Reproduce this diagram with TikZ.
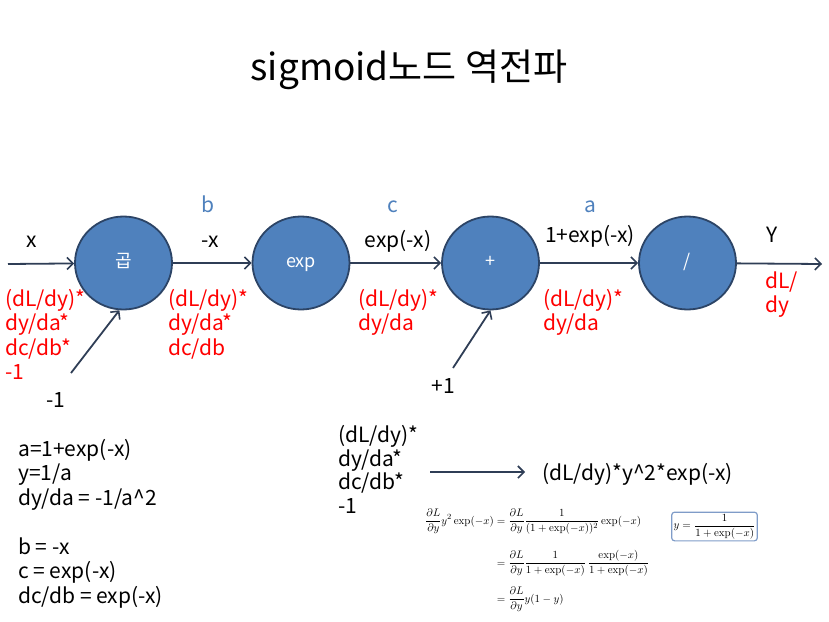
\documentclass[tikz,border=0pt]{standalone}
\usepackage{amsmath}
\usepackage[no-math]{fontspec}
\setmainfont{Noto Sans CJK KR}
\usetikzlibrary{arrows.meta,shapes.geometric}
\definecolor{nodefill}{HTML}{4F81BD}
\definecolor{nodeedge}{HTML}{2C4466}
\definecolor{wire}{HTML}{2F3E56}
\definecolor{varblue}{HTML}{4F81BD}
\definecolor{gradred}{HTML}{FF0000}
\definecolor{boxedge}{HTML}{7F9CC8}
\begin{document}
\begin{tikzpicture}[x=1pt,y=-1pt,
  op/.style={ellipse,fill=nodefill,draw=nodeedge,line width=1.8pt,
    minimum width=97pt,minimum height=93pt,inner sep=0pt,text=white,
    text height=1.6ex,text depth=0pt,
    font=\fontsize{18}{22}\selectfont},
  wirearrow/.style={draw=wire,line width=1.8pt,
    -{Straight Barb[length=6pt,width=12pt,line width=1.6pt]}},
  lbl/.style={font=\fontsize{21}{24.5}\selectfont,inner sep=0pt},
  % multi-line blocks are placed by the baseline of their last line
  grad/.style={lbl,text=gradred,align=left,anchor=base west},
  var/.style={lbl,text=varblue,anchor=base},
  val/.style={lbl,anchor=base},
  note/.style={lbl,align=left,anchor=base west}]
\useasboundingbox (0,0) rectangle (829,621);

% title
\node[inner sep=0pt,anchor=base,font=\fontsize{37}{42}\selectfont] (title) at (409,80) {sigmoid노드 역전파};

% computation graph
\node[op] (mul) at (123.5,263) {곱};
\node[op] (ex)  at (301,263) {exp};
\node[op] (add) at (490.5,263) {+};
\node[op] (div) at (687.5,263) {/};

\coordinate (xin)  at (8,264);
\coordinate (yout) at (822,264);
\coordinate (m1)   at (71,373);
\coordinate (p1)   at (453,368);

\draw[wirearrow] (xin) -- (mul);
\draw[wirearrow] (mul) -- (ex);
\draw[wirearrow] (ex) -- (add);
\draw[wirearrow] (add) -- (div);
\draw[wirearrow] (div) -- (yout);
\draw[wirearrow] (m1) -- (mul.265);
\draw[wirearrow] (p1) -- (add.south);

% forward values
\node[val] (lx)  at (32,247)  {x};
\node[val] (lb)  at (210,247) {-x};
\node[val] (lc)  at (398,247) {exp(-x)};
\node[val] (la)  at (590,242) {1+exp(-x)};
\node[val] (ly)  at (772,242) {Y};
\node[val] (lm1) at (56,407)  {-1};
\node[val] (lp1) at (443,393) {+1};

% variable names
\node[var] (vb) at (208,212) {b};
\node[var] (vc) at (393,212) {c};
\node[var] (va) at (590,212) {a};

% backward gradients
\node[grad] (g1) at (5,379.5)   {(dL/dy)*\\dy/da*\\dc/db*\\-1};
\node[grad] (g2) at (168,355)   {(dL/dy)*\\dy/da*\\dc/db};
\node[grad] (g3) at (358,330.5) {(dL/dy)*\\dy/da};
\node[grad] (g4) at (543,330.5) {(dL/dy)*\\dy/da};
\node[grad] (g5) at (765,312.5) {dL/\\dy};

% definitions
\node[note] (defs) at (18,603) {a=1+exp(-x)\\y=1/a\\dy/da = -1/a\^{}2\\[24.5pt]b = -x\\c = exp(-x)\\dc/db = exp(-x)};

% simplification
\node[note,font=\fontsize{21}{23.5}\selectfont] (prod) at (338,513) {(dL/dy)*\\dy/da*\\dc/db*\\-1};
\node[lbl,anchor=base west] (res) at (542,480) {(dL/dy)*y\^{}2*exp(-x)};
\coordinate (s1) at (430,472);
\coordinate (s2) at (525,472);
\draw[wirearrow] (s1) -- (s2);

% derivation
\node[anchor=north west,inner sep=0pt,font=\fontsize{11}{13}\selectfont] (deriv) at (425,509)
 {$\begin{aligned}
  \frac{\partial L}{\partial y}y^2\exp(-x) &= \frac{\partial L}{\partial y}\frac{1}{(1+\exp(-x))^2}\exp(-x)\\[12pt]
  &= \frac{\partial L}{\partial y}\frac{1}{1+\exp(-x)}\,\frac{\exp(-x)}{1+\exp(-x)}\\[7pt]
  &= \frac{\partial L}{\partial y}y(1-y)
 \end{aligned}$};
\node[draw=boxedge,line width=1.2pt,rounded corners=3pt,inner sep=2pt,
  font=\fontsize{11}{13}\selectfont] (ybox) at (714.5,526.5)
 {$y=\dfrac{1}{1+\exp(-x)}$};
\end{tikzpicture}
\end{document}
